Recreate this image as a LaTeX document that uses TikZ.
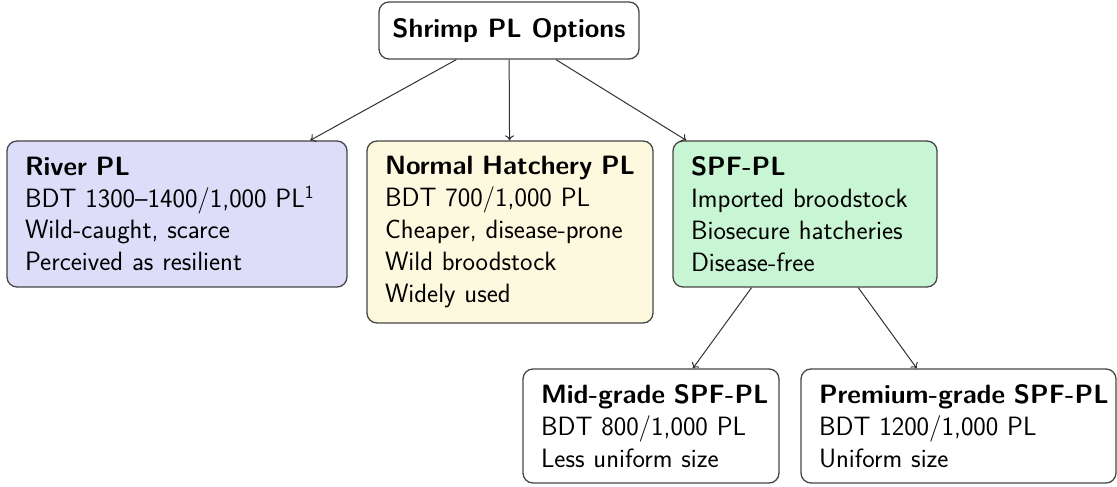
\documentclass[tikz,border=0pt]{standalone}
\usepackage{fontspec}
\usetikzlibrary{arrows.meta}
\definecolor{riverfill}{RGB}{221,221,250}
\definecolor{hatchfill}{RGB}{253,249,222}
\definecolor{spffill}{RGB}{200,246,212}
\definecolor{boxline}{RGB}{70,70,70}
\definecolor{arrowline}{RGB}{50,50,50}
\begin{document}
\begin{tikzpicture}[x=1pt,y=1pt,
  every node/.style={font=\sffamily\fontsize{26.5}{31.8}\selectfont},
  optbox/.style={draw=boxline, line width=1.3pt, rounded corners=10pt, inner xsep=18pt, inner ysep=0pt, align=left},
  conn/.style={draw=arrowline, line width=1pt, -{To[length=5pt,width=9pt]}}]
\useasboundingbox (0,0) rectangle (1117,487);
\node[optbox, fill=white, align=center, minimum width=260pt, minimum height=57pt, inner xsep=0pt] (root) at (509,456.5) {\bfseries Shrimp PL Options};
\node[optbox, fill=riverfill, text width=304pt, minimum height=146pt] (river) at (177,273)
  {\mbox{\bfseries River PL}\\\mbox{BDT 1300--1400/1,000 PL\textsuperscript{1}}\\\mbox{Wild-caught, scarce}\\\mbox{Perceived as resilient}};
\node[optbox, fill=hatchfill, text width=250pt, minimum height=182pt] (hatch) at (510,255)
  {\mbox{\bfseries Normal Hatchery PL}\\\mbox{BDT 700/1,000 PL}\\\mbox{Cheaper, disease-prone}\\\mbox{Wild broodstock}\\\mbox{Widely used}};
\node[optbox, fill=spffill, text width=228pt, minimum height=146pt] (spf) at (805,273)
  {\mbox{\bfseries SPF-PL}\\\mbox{Imported broodstock}\\\mbox{Biosecure hatcheries}\\\mbox{Disease-free}};
\node[optbox, fill=white, text width=220pt, minimum height=114pt] (mid) at (651,61)
  {\mbox{\bfseries Mid-grade SPF-PL}\\\mbox{BDT 800/1,000 PL}\\\mbox{Less uniform size}};
\node[optbox, fill=white, text width=279pt, minimum height=114pt] (prem) at (958.5,61)
  {\mbox{\bfseries Premium-grade SPF-PL}\\\mbox{BDT 1200/1,000 PL}\\\mbox{Uniform size}};
\draw[conn] (root) -- (river);
\draw[conn] (root) -- (hatch);
\draw[conn] (root) -- (spf);
\draw[conn] (spf) -- (mid);
\draw[conn] (spf) -- (prem);
\end{tikzpicture}
\end{document}
